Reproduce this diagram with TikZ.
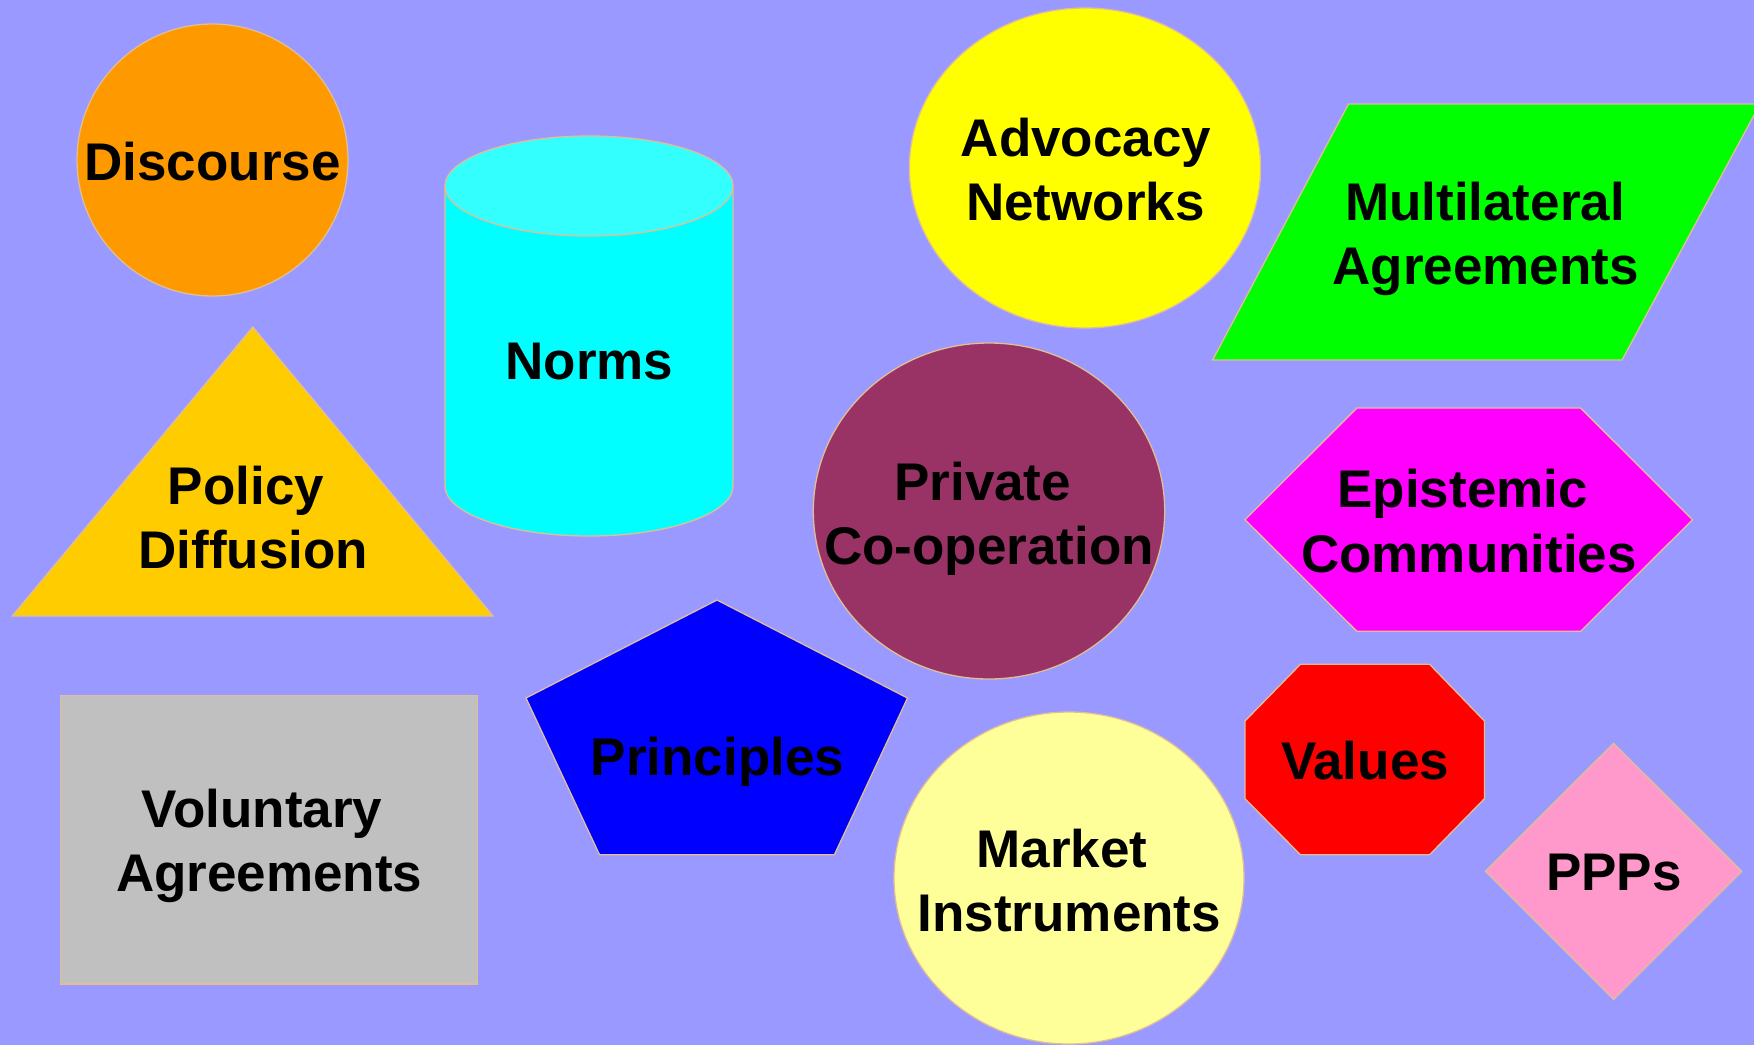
\documentclass[tikz,border=0pt]{standalone}
\usepackage{fontspec}
\setmainfont{Liberation Sans}
\definecolor{bgc}{RGB}{153,153,255}
\definecolor{edgec}{RGB}{225,190,150}
\definecolor{cOrange}{RGB}{255,153,0}
\definecolor{cCyan}{RGB}{0,255,255}
\definecolor{cCyanTop}{RGB}{51,255,255}
\definecolor{cGold}{RGB}{255,204,0}
\definecolor{cYellow}{RGB}{255,255,0}
\definecolor{cGreen}{RGB}{0,255,0}
\definecolor{cPlum}{RGB}{153,51,102}
\definecolor{cMagenta}{RGB}{255,0,255}
\definecolor{cRed}{RGB}{255,0,0}
\definecolor{cPink}{RGB}{255,153,204}
\definecolor{cLightYellow}{RGB}{255,255,153}
\definecolor{cGrey}{RGB}{192,192,192}
\definecolor{cBlue}{RGB}{0,0,255}
\tikzset{
  shapebox/.style={draw=edgec, line width=1.3pt, line join=miter},
  lbl/.style={anchor=base, inner sep=0pt, text=black, font=\fontsize{53}{64}\selectfont\bfseries}
}
\begin{document}
\begin{tikzpicture}[x=1pt,y=-1pt]
\useasboundingbox (0,0) rectangle (1754,1045);
\fill[bgc] (0,0) rectangle (1754,1045);
% Discourse
\path[shapebox, fill=cOrange] (212.5,160) ellipse [x radius=135.5, y radius=136];
% Norms cylinder
\path[shapebox, fill=cCyan] (445,186) -- (445,486) arc[start angle=180, end angle=0, x radius=144, y radius=50] -- (733,186) -- cycle;
\path[shapebox, fill=cCyanTop] (589,186) ellipse [x radius=144, y radius=50];
% Policy Diffusion triangle
\path[shapebox, fill=cGold] (252.8,327) -- (493,616) -- (12.3,616) -- cycle;
% Advocacy
\path[shapebox, fill=cYellow] (1085,168) ellipse [x radius=175.6, y radius=160];
% Multilateral parallelogram
\path[shapebox, fill=cGreen] (1348.5,104) -- (1760,104) -- (1622,360) -- (1212.6,360) -- cycle;
% Private
\path[shapebox, fill=cPlum] (989,511) ellipse [x radius=175.7, y radius=168];
% Epistemic hexagon
\path[shapebox, fill=cMagenta] (1356.9,408) -- (1580.6,408) -- (1692.5,519.7) -- (1580.6,631.3) -- (1356.9,631.3) -- (1245,519.7) -- cycle;
% Principles pentagon
\path[shapebox, fill=cBlue] (717,600) -- (907.5,698) -- (834.4,854.7) -- (599.5,854.7) -- (526,698) -- cycle;
% Voluntary rectangle
\path[shapebox, fill=cGrey] (60.4,695.3) rectangle (477.6,984);
% Values octagon
\path[shapebox, fill=cRed] (1300.4,664.3) -- (1429.6,664.3) -- (1484.4,721) -- (1484.4,798.7) -- (1429.6,854.7) -- (1300.4,854.7) -- (1245,798.7) -- (1245,721) -- cycle;
% Market ellipse
\path[shapebox, fill=cLightYellow] (1069,878) ellipse [x radius=175, y radius=166];
% PPPs diamond
\path[shapebox, fill=cPink] (1613.6,743.3) -- (1741.7,871.3) -- (1613.6,999.3) -- (1485.5,871.3) -- cycle;
% Labels
\node[lbl] (disc) at (212.5,180) {Discourse};
\node[lbl] (norms) at (589.5,379.3) {Norms};
\node[lbl] (pol1) at (246,504) {Policy};
\node[lbl] (pol2) at (253.5,568) {Diffusion};
\node[lbl] (adv1) at (1086,156) {Advocacy};
\node[lbl] (adv2) at (1085.4,220) {Networks};
\node[lbl] (mul1) at (1485,220) {Multilateral};
\node[lbl] (mul2) at (1485.7,284) {Agreements};
\node[lbl] (pri1) at (982.7,500) {Private};
\node[lbl] (pri2) at (989,564.3) {Co-operation};
\node[lbl] (epi1) at (1462.6,507.3) {Epistemic};
\node[lbl] (epi2) at (1469,572) {Communities};
\node[lbl] (princ) at (717.5,775.3) {Principles};
\node[lbl] (vol1) at (262,827) {Voluntary};
\node[lbl] (vol2) at (269.3,891.3) {Agreements};
\node[lbl] (val) at (1365,779.3) {Values};
\node[lbl] (mkt1) at (1062,867) {Market};
\node[lbl] (mkt2) at (1069.4,931.3) {Instruments};
\node[lbl] (ppp) at (1614,890.3) {PPPs};
\end{tikzpicture}
\end{document}
